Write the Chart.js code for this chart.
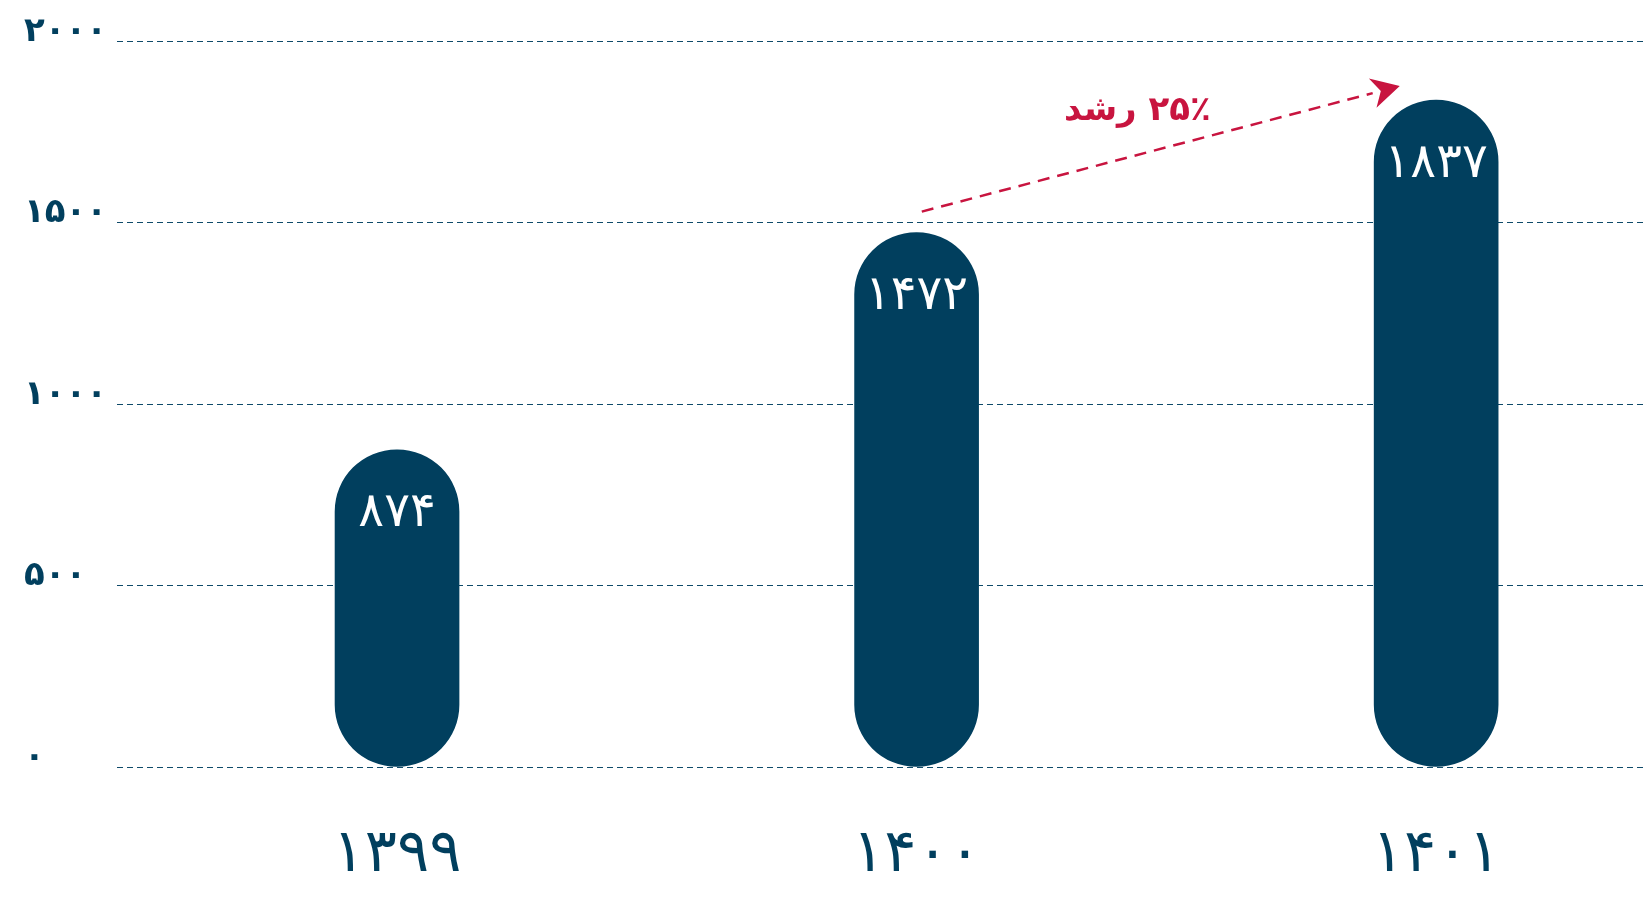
<!DOCTYPE html>
<html lang="fa">
<head>
<meta charset="utf-8">
<title>رشد</title>
<script src="https://cdn.jsdelivr.net/npm/chart.js@4.4.1/dist/chart.umd.min.js"></script>
<style>
  html, body { margin: 0; padding: 0; background: #fff; }
</style>
</head>
<body>
<canvas id="barChart" width="1645" height="907"></canvas>
<script>
const years = ['۱۳۹۹', '۱۴۰۰', '۱۴۰۱'];
const values = [874, 1472, 1837];
const yTicks = [0, 500, 1000, 1500, 2000];
const growthText = '۲۵٪ رشد';
// annotation anchors in data units (x = bar index, y = value)
const arrowFrom = [1.01, 1530];
const arrowTo = [1.93, 1876];
const growthAt = [1.425, 1807];

const navy = '#013f5e';
const red = '#c8143f';
const fontFamily = "'DejaVu Sans', sans-serif";

// latin digits -> persian digits
function toFa(n) {
  return String(n).replace(/\d/g, d => '۰۱۲۳۴۵۶۷۸۹'[d]);
}

// value labels inside the top of each bar
const barLabels = {
  id: 'barLabels',
  afterDatasetsDraw(chart) {
    const ctx = chart.ctx;
    const meta = chart.getDatasetMeta(0);
    ctx.save();
    ctx.fillStyle = '#ffffff';
    ctx.font = `48px ${fontFamily}`;
    ctx.textAlign = 'center';
    ctx.textBaseline = 'middle';
    meta.data.forEach((bar, i) => {
      ctx.fillText(toFa(values[i]), bar.x, bar.y + 64);
    });
    ctx.restore();
  }
};

// dashed growth arrow + text
const growthArrow = {
  id: 'growthArrow',
  afterDatasetsDraw(chart) {
    const { ctx, scales: { x, y } } = chart;
    const x1 = x.getPixelForValue(arrowFrom[0]), y1 = y.getPixelForValue(arrowFrom[1]);
    const x2 = x.getPixelForValue(arrowTo[0]), y2 = y.getPixelForValue(arrowTo[1]);
    const ang = Math.atan2(y2 - y1, x2 - x1);
    const headLen = 28, headHalf = 15;
    const bx = x2 - Math.cos(ang) * headLen, by = y2 - Math.sin(ang) * headLen;

    ctx.save();
    ctx.strokeStyle = red;
    ctx.fillStyle = red;
    ctx.lineWidth = 2.5;
    ctx.setLineDash([12, 8]);
    ctx.beginPath();
    ctx.moveTo(x1, y1);
    ctx.lineTo(bx, by);
    ctx.stroke();
    ctx.setLineDash([]);

    ctx.beginPath();
    ctx.moveTo(x2, y2);
    ctx.lineTo(bx + Math.sin(ang) * headHalf, by - Math.cos(ang) * headHalf);
    ctx.lineTo(x2 - Math.cos(ang) * headLen * 0.7, y2 - Math.sin(ang) * headLen * 0.7);
    ctx.lineTo(bx - Math.sin(ang) * headHalf, by + Math.cos(ang) * headHalf);
    ctx.closePath();
    ctx.fill();

    ctx.font = `bold 34px ${fontFamily}`;
    ctx.textAlign = 'center';
    ctx.textBaseline = 'middle';
    ctx.direction = 'rtl';
    ctx.fillText(growthText, x.getPixelForValue(growthAt[0]), y.getPixelForValue(growthAt[1]));
    ctx.restore();
  }
};

const ctx = document.getElementById('barChart').getContext('2d');
const chartInstance = new Chart(ctx, {
  type: 'bar',
  data: {
    datasets: [{
      data: values.map((v, i) => ({ x: i, y: v })),
      backgroundColor: navy,
      barThickness: 124,
      borderRadius: 62,
      borderSkipped: false
    }]
  },
  options: {
    responsive: false,
    animation: false,
    layout: { padding: { top: 41, left: 24, right: 0, bottom: 0 } },
    plugins: { legend: { display: false }, tooltip: { enabled: false } },
    scales: {
      x: {
        type: 'linear',
        offset: false,
        min: -0.539,
        max: 2.402,
        grid: { display: false, drawTicks: false, offset: false },
        border: { display: false },
        afterBuildTicks: (scale) => { scale.ticks = years.map((_, i) => ({ value: i })); },
        afterFit: (scale) => { scale.height = 140; },
        ticks: {
          padding: 52,
          color: navy,
          font: { family: fontFamily, size: 60 },
          callback: (v) => years[v]
        }
      },
      y: {
        min: 0,
        max: 2000,
        grid: { color: '#0f4a69', lineWidth: 1, drawTicks: false },
        border: { display: false, dash: [6, 4] },
        afterBuildTicks: (scale) => { scale.ticks = yTicks.map(v => ({ value: v })); },
        afterFit: (scale) => { scale.width = 93; },
        ticks: {
          crossAlign: 'far',
          labelOffset: -9,
          color: navy,
          font: { family: fontFamily, size: 34, weight: 'bold' },
          callback: (v) => toFa(v)
        }
      }
    }
  },
  plugins: [barLabels, growthArrow]
});
</script>
</body>
</html>
